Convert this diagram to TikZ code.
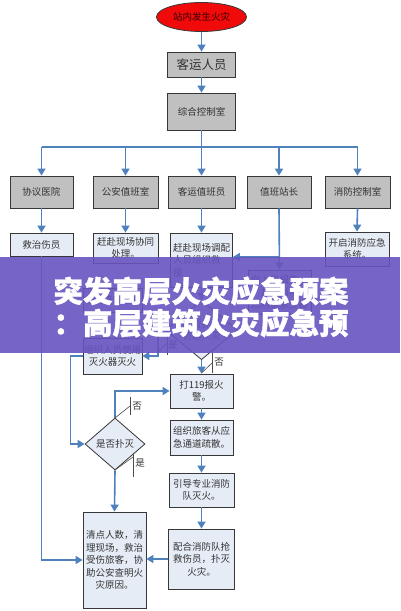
\documentclass[tikz,border=0pt]{standalone}
\usepackage{fontspec}
\newfontfamily\cjk{Noto Sans CJK SC}
\newfontfamily\cjkb{Noto Sans CJK SC}[BoldFeatures={FakeBold=1.2}]
\usetikzlibrary{arrows.meta,shapes.geometric}
\definecolor{linkblue}{RGB}{79,129,189}
\definecolor{graybox}{RGB}{192,192,192}
\definecolor{lightbox}{RGB}{230,236,246}
\definecolor{edge}{RGB}{55,55,55}
\definecolor{bannerc}{RGB}{104,84,192}
\definecolor{firered}{RGB}{240,10,10}
\begin{document}
\begin{tikzpicture}[x=1pt,y=-1pt,
  txt/.style={font=\cjk\fontsize{9.5}{12.5}\selectfont, text=black!80},
  gbox/.style={txt, draw=edge, fill=graybox, line width=0.8pt, inner sep=0pt, align=center},
  lbox/.style={txt, draw=edge, fill=lightbox, line width=0.8pt, inner sep=0pt, align=center},
  dia/.style={txt, diamond, draw=edge, fill=lightbox, line width=0.8pt, inner sep=0pt, align=center},
  fire/.style={txt, ellipse, draw=edge, fill=firered, line width=0.8pt, inner sep=0pt, text=black!80!red},
  conn/.style={draw=linkblue, line width=1.6pt, -{Triangle[length=7pt,width=8pt]}},
  plain/.style={draw=linkblue, line width=1.6pt},
  tick/.style={draw=black!70, line width=0.6pt},
  lab/.style={txt, inner sep=0pt},
  bannertext/.style={font=\cjkb\bfseries\fontsize{29.5}{30}\selectfont, text=white, inner sep=0pt}]
\useasboundingbox (0,0) rectangle (400,611);
\fill[white] (0,0) rectangle (400,611);

% top
\node[fire, minimum width=90pt, minimum height=29pt] (fire) at (201.5,17) {站内发生火灾};
\node[gbox, minimum width=68pt, minimum height=25pt, font=\cjk\fontsize{12.5}{14}\selectfont] (kyry) at (201.5,64.5) {客运人员};
\node[gbox, minimum width=68pt, minimum height=37pt] (zhkz) at (201.5,111.5) {综合控制室};
\draw[conn] (fire.south) -- (kyry.north);
\draw[conn] (kyry.south) -- (zhkz.north);

% row of departments
\node[gbox, minimum width=63pt, minimum height=32pt] (xyyy) at (41.5,192) {协议医院};
\node[gbox, minimum width=65pt, minimum height=32pt] (gaz) at (125.5,192) {公安值班室};
\node[gbox, minimum width=67pt, minimum height=32pt] (kyzb) at (201.5,192) {客运值班员};
\node[gbox, minimum width=64pt, minimum height=32pt] (zbzz) at (279,192) {值班站长};
\node[gbox, minimum width=65pt, minimum height=32pt] (xfkz) at (357.5,192) {消防控制室};
\coordinate (bus) at (201.5,147);
\draw[plain] (zhkz.south) -- (bus);
\draw[plain] (xyyy.north |- bus) -- (xfkz.north |- bus);
\foreach \n in {xyyy,gaz,kyzb,zbzz,xfkz} \draw[conn] (\n.north |- bus) -- (\n.north);

% second row
\node[lbox, minimum width=63pt, minimum height=23pt] (jzsy) at (41.5,244.5) {救治伤员};
\node[lbox, minimum width=65pt, minimum height=30pt] (gfxt) at (125.5,248) {赶赴现场协同\\处理。};
\node[lbox, minimum width=62pt, minimum height=54pt, align=left] (gfdp) at (201.5,260) {赶赴现场调配\\人员组织救\\援};
\node[lbox, minimum width=64pt, minimum height=34pt] (kqxf) at (357,249) {开启消防应急\\系统。};
\node[lbox, minimum width=63pt, minimum height=44pt] (sjzy) at (279.5,292) {向上级报告，\\并向当地\\政府请求支援};
\draw[conn] (xyyy.south) -- (jzsy.north);
\draw[conn] (gaz.south) -- (gfxt.north);
\draw[conn] (kyzb.south) -- (gfdp.north);
\draw[conn] (xfkz.south) -- (kqxf.north);
\draw[conn] (zbzz.south) -- (sjzy.north);
\coordinate (br) at (279,257);
\draw[conn] (br) -- (br -| gfdp.east);

% first decision
\node[dia, minimum width=72pt, minimum height=54pt] (d1) at (201.5,330) {能否扑灭\\初起火灾};
\draw[conn] (gfdp.south) -- (d1.north);
\node[lbox, minimum width=59pt, minimum height=24pt, font=\cjk\fontsize{9}{11}\selectfont] (bgz) at (112.5,300) {报告值班站长};
\node[lbox, minimum width=59pt, minimum height=36pt] (zzry) at (112.5,356) {组织人员使用\\灭火器灭火};
\draw[conn] (d1.west) -- ++(-7,0) |- (zzry.east);
\draw[tick] (158.5,352) -- (167,343);
\draw[tick] (167,335) -- (167,355);
\node[lab] at (173,345) {是};

% second decision
\node[dia, minimum width=60pt, minimum height=52pt] (d2) at (115,444) {是否扑灭};
\draw[conn] (zzry.west) -- ++(-12,0) |- (d2.west);

% right column
\node[lbox, minimum width=63pt, minimum height=34pt] (c119) at (201.5,391) {打119报火\\警。};
\node[lbox, minimum width=63pt, minimum height=35pt] (zzlk) at (201.5,437.5) {组织旅客从应\\急通道疏散。};
\node[lbox, minimum width=65pt, minimum height=34pt] (ydxf) at (201.5,490) {引导专业消防\\队灭火。};
\node[lbox, minimum width=66pt, minimum height=60pt] (phxf) at (201.5,559) {配合消防队抢\\救伤员，扑灭\\火灾。};
\node[lbox, minimum width=63pt, minimum height=96pt] (qdrs) at (114.5,560) {清点人数，清\\理现场，救治\\受伤旅客，协\\助公安查明火\\灾原因。};

\draw[conn] (d1.south) -- (c119.north);
\draw[conn] (c119.south) -- (zzlk.north);
\draw[conn] (zzlk.south) -- (ydxf.north);
\draw[conn] (ydxf.south) -- (phxf.north);
\draw[conn] (phxf.west) -- (phxf.west -| qdrs.east);
\draw[conn] (d2.north) |- (c119.west);
\draw[conn] (d2.south) -- (qdrs.north);
\draw[conn] (jzsy.south) |- (qdrs.west);

% yes/no labels
\draw[tick] (201.5,373) -- (212,363);
\draw[tick] (212,353) -- (212,373);
\node[lab] at (219,362) {否};
\draw[tick] (115,418) -- (130,406);
\draw[tick] (130,397) -- (130,415);
\node[lab] at (137,406) {否};
\draw[tick] (115,470) -- (133,457);
\draw[tick] (133,453) -- (133,477);
\node[lab] at (140,463) {是};

% banner
\fill[bannerc, opacity=0.9] (0,257) rectangle (400,353);
\node[bannertext] (b1) at (201,291) {突发高层火灾应急预案};
\node[bannertext] (b2) at (201,323) {：高层建筑火灾应急预};
\end{tikzpicture}
\end{document}
